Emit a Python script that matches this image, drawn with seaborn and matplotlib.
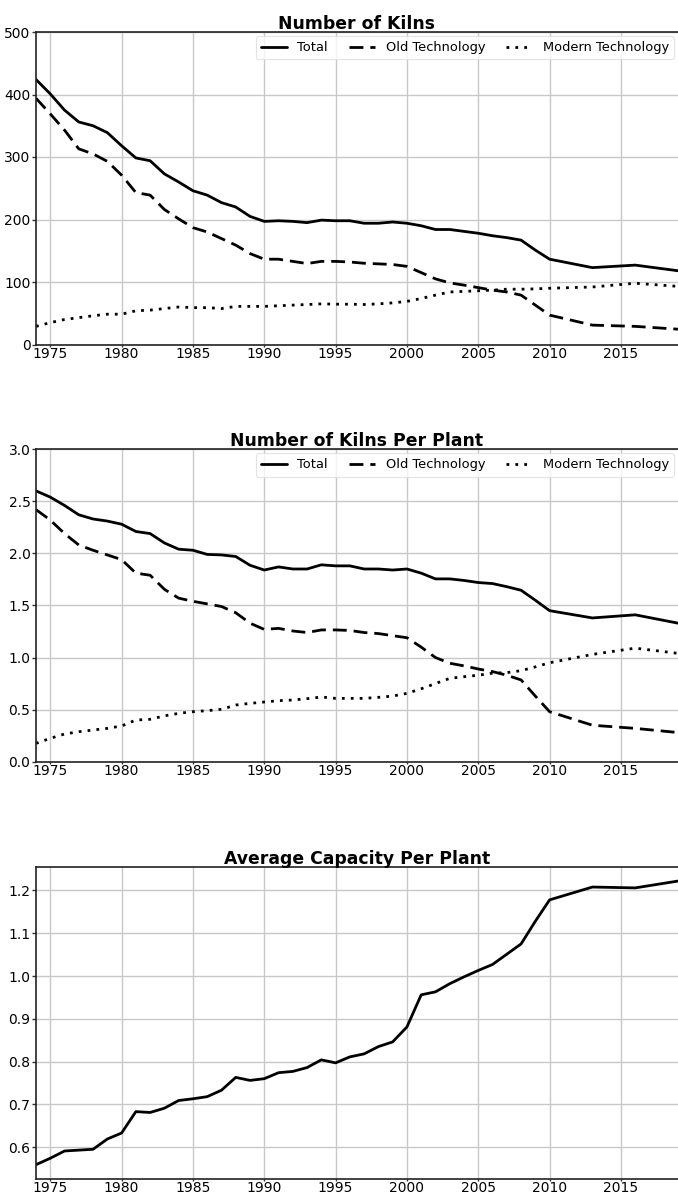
import numpy as np
import pandas as pd
import matplotlib
matplotlib.use("Agg")
import matplotlib.pyplot as plt
import seaborn as sns

years = list(range(1974, 2011)) + [2013, 2016, 2019]

kilns_total = [424, 401, 375, 356, 350, 339, 318, 298.5, 294, 273, 260, 246, 239, 227, 220, 205,
               197, 198, 197, 195, 199, 198, 198, 194, 194, 196, 194, 190, 184, 184, 181, 178,
               174, 171, 167, 151, 136.5, 123, 127, 118]
kilns_old = [394, 369, 343, 313, 305, 293, 271, 243, 239, 216, 201, 187, 180, 169.5, 159, 145.5,
             136.5, 136.5, 133, 129.5, 133, 133, 132, 130, 129, 128, 125, 115, 105, 98.6, 95, 91,
             87, 84, 79, 63, 47, 31, 29, 24.5]
kilns_modern = [29, 35, 40, 43, 46, 48.5, 48.5, 54, 55, 57.5, 60, 59, 59, 57.5, 61, 61,
                61, 62, 63, 64, 65, 64.5, 64.5, 64, 65, 66.6, 69, 73.6, 79, 84, 85, 86,
                87, 88.5, 88.5, 89, 90, 92, 98, 93]

pp_total = [2.60, 2.54, 2.46, 2.37, 2.33, 2.31, 2.28, 2.21, 2.19, 2.10, 2.04, 2.03, 1.99, 1.985,
            1.97, 1.886, 1.84, 1.87, 1.85, 1.85, 1.89, 1.88, 1.88, 1.85, 1.85, 1.84, 1.85, 1.81,
            1.755, 1.755, 1.74, 1.72, 1.71, 1.68, 1.646, 1.55, 1.45, 1.38, 1.41, 1.33]
pp_old = [2.42, 2.32, 2.19, 2.08, 2.03, 1.985, 1.94, 1.81, 1.79, 1.655, 1.57, 1.54, 1.515, 1.49,
          1.43, 1.33, 1.27, 1.28, 1.255, 1.24, 1.265, 1.265, 1.26, 1.24, 1.23, 1.21, 1.19, 1.10,
          1.00, 0.945, 0.92, 0.89, 0.865, 0.83, 0.785, 0.63, 0.48, 0.35, 0.32, 0.28]
pp_modern = [0.176, 0.224, 0.266, 0.288, 0.304, 0.32, 0.343, 0.40, 0.407, 0.44, 0.464, 0.48, 0.49,
             0.503, 0.544, 0.56, 0.573, 0.586, 0.592, 0.605, 0.621, 0.608, 0.608, 0.608, 0.618,
             0.63, 0.656, 0.70, 0.75, 0.80, 0.816, 0.83, 0.85, 0.855, 0.874, 0.91, 0.95, 1.03,
             1.09, 1.04]

capacity = [0.559, 0.574, 0.591, 0.593, 0.595, 0.619, 0.633, 0.683, 0.681, 0.691, 0.709, 0.713,
            0.718, 0.733, 0.763, 0.756, 0.760, 0.774, 0.777, 0.786, 0.804, 0.797, 0.811, 0.818,
            0.835, 0.846, 0.881, 0.956, 0.963, 0.982, 0.998, 1.013, 1.027, 1.051, 1.075, 1.128,
            1.178, 1.208, 1.206, 1.222]

series_names = ["Total", "Old Technology", "Modern Technology"]
titles = ["Number of Kilns", "Number of Kilns Per Plant", "Average Capacity Per Plant"]
xticks = [1975, 1980, 1985, 1990, 1995, 2000, 2005, 2010, 2015]

sns.set_style("white")
plt.rcParams['font.family'] = ['DejaVu Sans']
plt.rcParams['text.color'] = 'black'
plt.rcParams['axes.labelcolor'] = 'black'
plt.rcParams['xtick.color'] = 'black'
plt.rcParams['ytick.color'] = 'black'

fig = plt.figure(figsize=(6.78, 11.94), dpi=100)
L = 36 / 678
W = 1 - L
H = 312.5 / 1194
axes = [fig.add_axes([L, 1 - 344.5 / 1194, W, H]),
        fig.add_axes([L, 1 - 761.7 / 1194, W, H]),
        fig.add_axes([L, 1 - 1179.3 / 1194, W, H])]

dash_map = {"Total": "", "Old Technology": (5, 2.5), "Modern Technology": (1, 2.2)}

def long_df(t, o, m):
    return pd.DataFrame({
        "year": years * 3,
        "value": list(t) + list(o) + list(m),
        "series": [series_names[0]] * len(years) + [series_names[1]] * len(years) + [series_names[2]] * len(years),
    })

for ax, (t, o, m), ylim, yt in [(axes[0], (kilns_total, kilns_old, kilns_modern), (0, 500), [0, 100, 200, 300, 400, 500]),
                                (axes[1], (pp_total, pp_old, pp_modern), (0, 3.0), [0.0, 0.5, 1.0, 1.5, 2.0, 2.5, 3.0])]:
    df = long_df(t, o, m)
    sns.lineplot(data=df, x="year", y="value", hue="series", style="series",
                 palette=["black"] * 3, dashes=dash_map, linewidth=2, ax=ax,
                 hue_order=series_names, style_order=series_names)
    ax.set_ylim(*ylim)
    ax.set_yticks(yt)
    if ylim[1] == 3.0:
        ax.set_yticklabels([f"{v:.1f}" for v in yt])
    leg = ax.legend(loc="upper right", ncol=3, fontsize=9.4, frameon=True,
                    borderaxespad=0.3, handlelength=2.0, columnspacing=1.6)
    leg.get_frame().set_edgecolor("#dddddd")
    leg.get_frame().set_linewidth(0.8)
    for txt in leg.get_texts():
        txt.set_color("black")

dfc = pd.DataFrame({"year": years, "value": capacity})
sns.lineplot(data=dfc, x="year", y="value", color="black", linewidth=2, ax=axes[2])
axes[2].set_yticks([0.6, 0.7, 0.8, 0.9, 1.0, 1.1, 1.2])
axes[2].set_ylim(0.5248, 1.2553)

for ax, title in zip(axes, titles):
    ax.set_xlim(1974, 2019)
    ax.set_xticks(xticks)
    ax.set_xlabel("")
    ax.set_ylabel("")
    ax.set_title(title, fontsize=12.4, fontweight="bold", pad=2, color="black")
    ax.grid(True, color="#c8c8c8", linewidth=1.0)
    ax.set_axisbelow(True)
    ax.tick_params(axis="y", labelsize=10, length=3, width=1, color="#333333",
                   left=True, pad=1, labelcolor="black")
    ax.tick_params(axis="x", labelsize=10, length=1.5, width=1, color="#333333",
                   bottom=True, pad=0, labelcolor="black")
    for s in ["left", "top", "bottom"]:
        ax.spines[s].set_color("#222222")
        ax.spines[s].set_linewidth(1.2)
    ax.spines["right"].set_visible(False)
    ax.set_facecolor("white")

fig.savefig("out.png", dpi=100)
